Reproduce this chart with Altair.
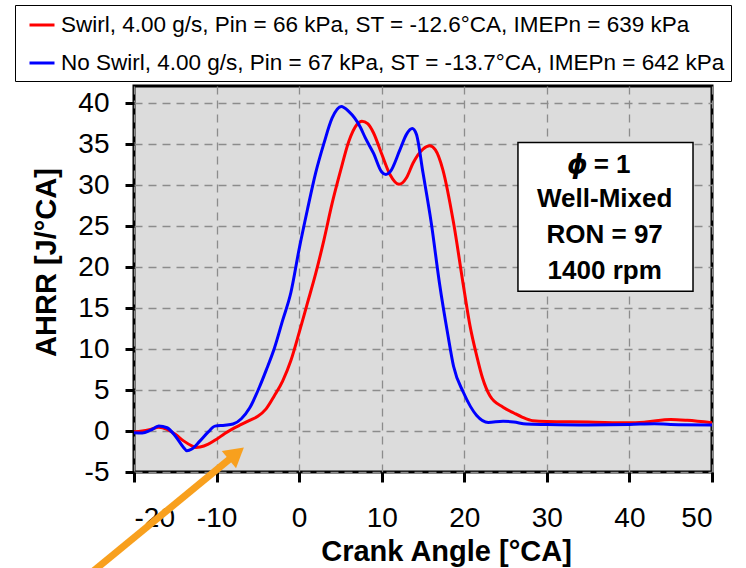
import altair as alt
import pandas as pd

# ---------------- data ----------------
SWIRL = "Swirl, 4.00 g/s, Pin = 66 kPa, ST = -12.6°CA, IMEPn = 639 kPa"
NOSWIRL = "No Swirl, 4.00 g/s, Pin = 67 kPa, ST = -13.7°CA, IMEPn = 642 kPa"

swirl_angle = [-20, -19, -18, -17, -16, -15, -14, -13, -12.5, -12, -11, -10, -9, -8, -7, -6,
               -5, -4, -3, -2, -1, 0, 1, 2, 3, 4, 5, 6, 7, 7.6, 8.3, 9, 10, 11, 12.1, 13,
               13.8, 15, 15.8, 16.5, 17.4, 18.7, 19.9, 20.7, 21.5, 22.2, 23.1, 24.7, 26,
               27, 28.3, 30, 35, 40, 42, 45, 47, 50]
swirl_ahrr = [-0.1, 0.0, 0.2, 0.45, 0.2, -0.4, -1.2, -1.8, -2.0, -1.95, -1.6, -1.0, -0.3, 0.3,
              0.8, 1.3, 1.8, 2.7, 4.3, 6.1, 8.6, 12.0, 15.6, 19.2, 23.3, 27.8, 31.7, 35.3,
              37.4, 37.8, 37.5, 36.4, 33.8, 31.3, 30.1, 30.9, 32.7, 34.4, 34.8, 34.3, 31.9,
              25.4, 17.7, 12.8, 9.2, 6.5, 4.3, 2.9, 2.2, 1.7, 1.25, 1.15, 1.1, 1.0, 1.1,
              1.4, 1.3, 1.0]

noswirl_angle = [-20, -19, -18, -17, -16, -15, -14, -13.6, -13, -12, -11, -10.2, -9, -8, -7,
                 -6, -4.75, -4, -3, -2, -1, 0, 1, 2, 3, 4, 5.1, 6, 7.4, 8, 9, 10, 10.5, 11,
                 12.2, 13, 13.7, 14.2, 15, 16, 17, 18, 18.7, 19.9, 21.5, 22.9, 24.7, 26,
                 27.5, 30, 35, 40, 43, 45, 50]
noswirl_ahrr = [-0.2, -0.25, 0.1, 0.6, 0.4, -0.6, -2.0, -2.4, -2.2, -1.2, -0.1, 0.6, 0.7,
                0.85, 1.5, 2.8, 5.5, 7.4, 10.1, 13.5, 16.9, 22.2, 27.0, 31.5, 35.1, 38.2,
                39.6, 39.0, 37.1, 35.8, 33.9, 31.6, 31.3, 31.6, 34.3, 36.2, 36.9, 36.2, 31.5,
                25.4, 18.0, 11.8, 7.9, 4.7, 1.9, 1.05, 1.2, 1.1, 0.85, 0.8, 0.75, 0.8, 0.9,
                0.8, 0.75]

x_ticks = [-20, -10, 0, 10, 20, 30, 40, 50]
y_ticks = [-5, 0, 5, 10, 15, 20, 25, 30, 35, 40]

# annotation box (data units) and its text
box = {"angle": [26.5], "angle2": [47.7], "ahrr": [35.2], "ahrr2": [17.05]}
note_lines = ["Well-Mixed", "RON = 97", "1400 rpm"]
note_y = [28.26, 23.9, 19.5]
phi_y = 32.5
note_x = 37.0

# arrow annotation (data units)
arrow_angle = [-25.3, -7.6]
arrow_ahrr = [-17.4, -2.75]

# ---------------- chart ----------------
FONT = "Liberation Sans"
ORANGE = "#F8A01E"

df_s = pd.DataFrame({"angle": swirl_angle, "ahrr": swirl_ahrr, "series": SWIRL})
df_n = pd.DataFrame({"angle": noswirl_angle, "ahrr": noswirl_ahrr, "series": NOSWIRL})

X = alt.X("angle:Q", title="Crank Angle [°CA]",
          scale=alt.Scale(domain=[-20, 50], nice=False, zero=False),
          axis=alt.Axis(values=x_ticks, labelPadding=22, tickSize=10,
                        labelExpr="'' + datum.value",
                        titleX=312, titleY=88, titleBaseline="alphabetic",
                        titleAlign="center"))
Y = alt.Y("ahrr:Q", title="AHRR [J/°CA]",
          scale=alt.Scale(domain=[-5, 42.1], nice=False, zero=False),
          axis=alt.Axis(values=y_ticks, labelPadding=16, tickSize=9,
                        labelExpr="'' + datum.value",
                        titleX=-79, titleY=176, titleAngle=270,
                        titleBaseline="alphabetic", titleAlign="center"))

color = alt.Color("series:N",
                  scale=alt.Scale(domain=[SWIRL, NOSWIRL], range=["#FF0000", "#0000FF"]),
                  legend=alt.Legend(title=None, orient="none", legendX=-119, legendY=-81,
                                    direction="vertical", symbolType="stroke",
                                    symbolSize=625, symbolStrokeWidth=3,
                                    labelFont=FONT, labelFontSize=22.5, labelColor="black",
                                    labelLimit=1000, labelOffset=5, symbolOffset=7,
                                    padding=6, rowPadding=12,
                                    strokeColor="black", fillColor="white"))

red = alt.Chart(df_s).mark_line(strokeWidth=3, interpolate="monotone").encode(
    x=X, y=Y, color=color)
blue = alt.Chart(df_n).mark_line(strokeWidth=3, interpolate="monotone").encode(
    x=X, y=Y, color=color)

rect = alt.Chart(pd.DataFrame(box)).mark_rect(
    fill="white", stroke="black", strokeWidth=1.5).encode(
    x=X, x2="angle2:Q", y=Y, y2="ahrr2:Q")

notes = alt.Chart(pd.DataFrame({"angle": [note_x] * 3, "ahrr": note_y, "txt": note_lines})).mark_text(
    font=FONT, fontSize=26, fontWeight="bold", color="black", align="center",
    baseline="middle").encode(x=X, y=Y, text="txt:N")

phi = alt.Chart(pd.DataFrame({"angle": [note_x], "ahrr": [phi_y], "txt": ["ϕ"]})).mark_text(
    font="DejaVu Sans", fontSize=26, fontWeight="bold", fontStyle="italic", color="black",
    align="right", baseline="middle", dx=-17).encode(x=X, y=Y, text="txt:N")
eq = alt.Chart(pd.DataFrame({"angle": [note_x], "ahrr": [phi_y], "txt": ["= 1"]})).mark_text(
    font=FONT, fontSize=26, fontWeight="bold", color="black",
    align="left", baseline="middle", dx=-11).encode(x=X, y=Y, text="txt:N")

arrow_df = pd.DataFrame({"angle": arrow_angle, "ahrr": arrow_ahrr, "k": [0, 1]})
shaft = alt.Chart(arrow_df).mark_line(color=ORANGE, strokeWidth=7, strokeCap="butt").encode(
    x=X, y=Y, order="k:Q")
head = alt.Chart(arrow_df.iloc[[1]]).mark_point(
    shape="triangle-up", filled=True, size=500, angle=50.5, color=ORANGE, opacity=1).encode(
    x=X, y=Y)

chart = alt.layer(red, blue, rect, notes, phi, eq, shaft, head).properties(
    width=578, height=386,
    autosize=alt.AutoSizeParams(type="none"),
    padding={"left": 134, "top": 86, "right": 34, "bottom": 96},
).configure_view(
    fill="#DCDCDC", stroke="black", strokeWidth=3
).configure_axis(
    domain=False, grid=True, gridColor="#8C8C8C", gridDash=[8, 6], gridWidth=1.3,
    tickColor="black", tickWidth=3,
    labelFont=FONT, labelFontSize=28, labelColor="black",
    titleFont=FONT, titleFontSize=29, titleFontWeight="bold", titleColor="black",
)

chart.save("out.html", embed_options={"renderer": "svg", "actions": False})
